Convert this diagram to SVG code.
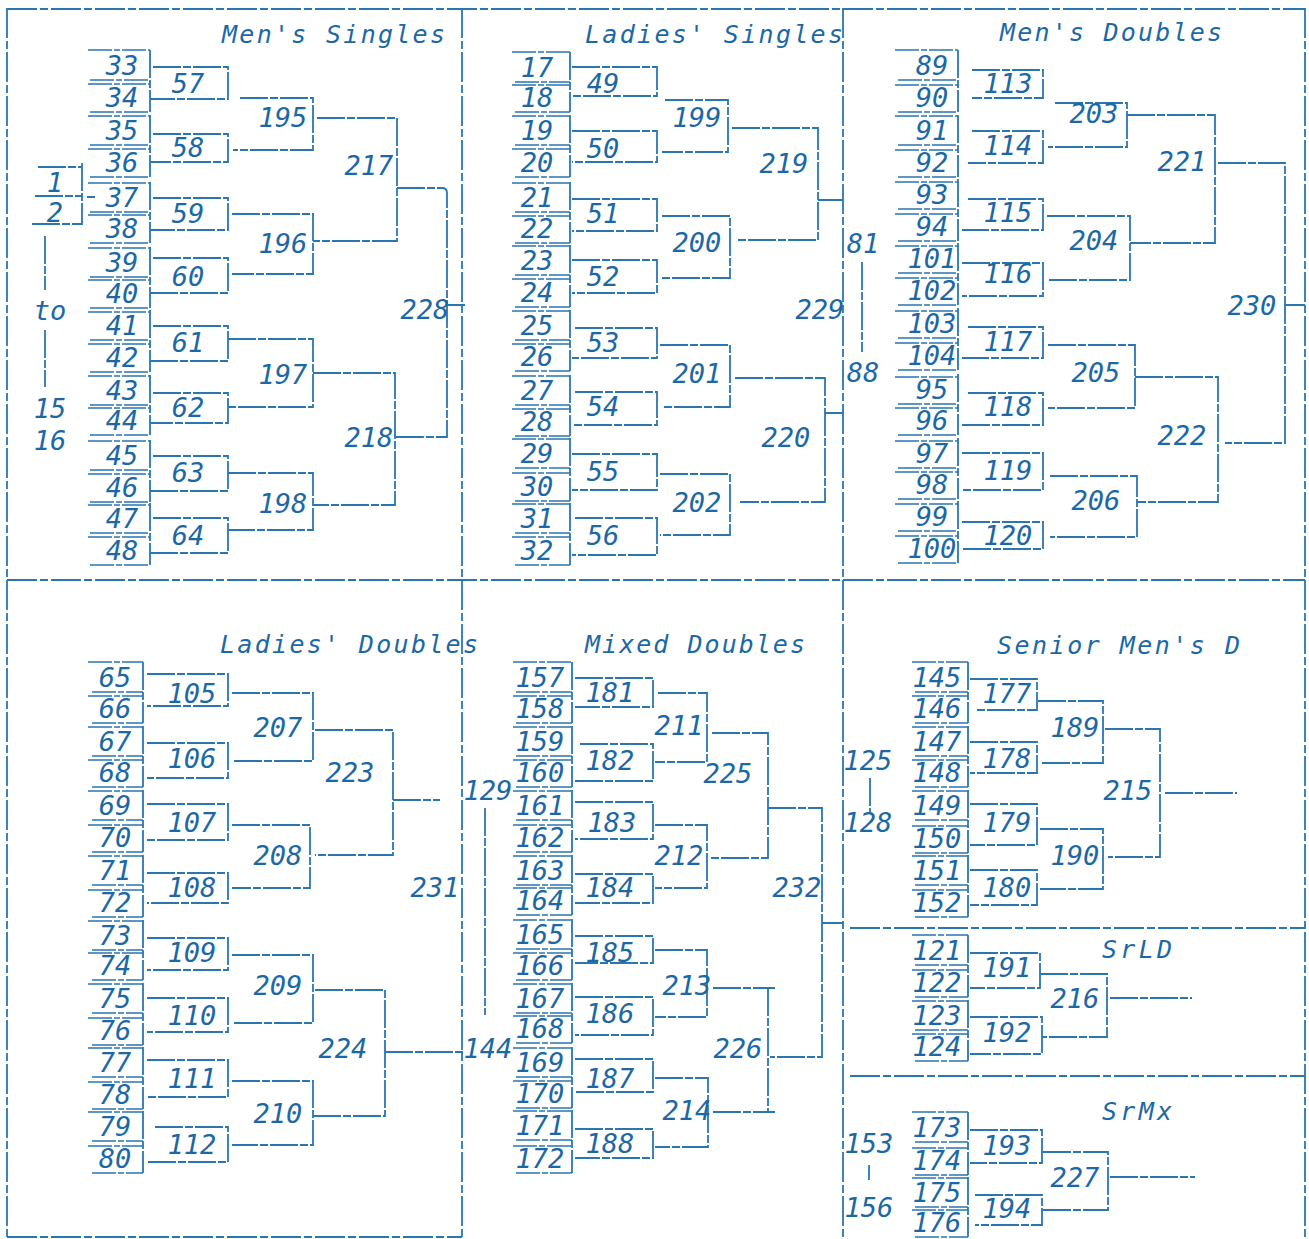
<svg xmlns="http://www.w3.org/2000/svg" width="1309" height="1239" viewBox="0 0 1309 1239">
<style>
.ln{stroke:#2a76b2;stroke-width:1.8;fill:none;stroke-dasharray:28 2 8 2}
.fr{stroke:#2a76b2;stroke-width:1.8;fill:none;stroke-dasharray:30 3 8 3}
.ul{stroke:#2a76b2;stroke-width:1.5;fill:none;stroke-dasharray:24 2 6 2}
.t{font-family:"DejaVu Sans Mono","Liberation Mono",monospace;font-style:italic;font-size:27px;fill:#1c68a6;text-anchor:middle}
.h{font-family:"DejaVu Sans Mono","Liberation Mono",monospace;font-style:italic;font-size:25px;fill:#1c68a6}
</style>
<rect x="0" y="0" width="1309" height="1239" fill="#ffffff"/>
<g id="frame">
<path class="fr" d="M7 9H1305M7 8V1237M1305 8V1237M462 8V1237M843 8V1237M7 580H1305M850 928H1305M850 1076H1305M7 1237H462"/>
</g>
<g id="titles">
<text class="h" x="222" y="43" textLength="223" lengthAdjust="spacing">Men's Singles</text>
<text class="h" x="585" y="43" textLength="258" lengthAdjust="spacing">Ladies' Singles</text>
<text class="h" x="1000" y="41" textLength="222" lengthAdjust="spacing">Men's Doubles</text>
<text class="h" x="220" y="653" textLength="258" lengthAdjust="spacing">Ladies' Doubles</text>
<text class="h" x="585" y="653" textLength="220" lengthAdjust="spacing">Mixed Doubles</text>
<text class="h" x="997" y="654" textLength="243" lengthAdjust="spacing">Senior Men's D</text>
<text class="h" x="1102" y="958" textLength="70" lengthAdjust="spacing">SrLD</text>
<text class="h" x="1102" y="1120" textLength="70" lengthAdjust="spacing">SrMx</text>
</g>
<g id="connectors">
<path class="ln" d="M150 50V112M150 115V177M150 182V243M150 247V308M150 310V372M150 375V435M150 440V502M150 503V565"/>
<path class="ln" d="M153 67H228V99H150M153 134H228V162H150M153 198H228V230H150M153 258H228V293H150M153 326H228V361H150M153 393H228V423H150M153 456H228V491H150M153 518H228V553H150"/>
<path class="ln" d="M240 98H313V150H233M232 214H313V274H232M228 339H313V407H228M228 473H313V530H228"/>
<path class="ln" d="M317 118H397V241H313M313 373H395V505H313"/>
<path class="ln" d="M397 188H442Q447 188 447 193V437H395M447 305H465"/>
<path class="ln" d="M38 167H82M35 196H82M32 224H82M82 163V225M87 197H95M45 236V290M45 330V387"/>
<path class="ln" d="M570 52V112M570 115V177M570 182V243M570 245V307M570 310V371M570 375V436M570 438V501M570 503V565"/>
<path class="ln" d="M572 67H657V96H572M572 131H657V162H572M572 199H657V231H572M572 260H657V293H572M575 328H657V358H572M575 392H657V425H572M572 454H657V490H572M575 518H657V555H572"/>
<path class="ln" d="M665 100H728V152H662M662 216H730V278H662M660 345H730V407H663M660 474H730V535H660"/>
<path class="ln" d="M732 128H818V240H737M818 200H843M735 378H825V502H740M825 413H843"/>
<path class="ln" d="M862 262V352"/>
<path class="ln" d="M958 50V112M958 115V177M958 179V241M958 243V305M958 308V370M958 374V435M958 438V499M958 501V563"/>
<path class="ln" d="M972 70H1043V98H972M972 131H1043V163H968M968 199H1043V230H962M962 263H1043V296H962M968 327H1043V358H962M968 393H1043V425H962M962 453H1043V490H962M962 522H1043V549H962"/>
<path class="ln" d="M1055 103H1127V147H1048M1047 216H1130V280H1047M1048 345H1135V408H1048M1050 476H1137V537H1050"/>
<path class="ln" d="M1127 115H1215V243H1130M1135 377H1218V502H1137"/>
<path class="ln" d="M1218 163H1285V443H1225M1285 305H1305"/>
<path class="ln" d="M143 662V723M143 726V787M143 790V852M143 855V917M143 920V980M143 983V1045M143 1047V1109M143 1111V1173"/>
<path class="ln" d="M147 674H228V706H147M147 743H228V778H147M147 804H228V840H147M147 873H228V903H147M147 938H228V970H147M147 998H228V1032H147M147 1060H228V1097H147M155 1127H228V1162H147"/>
<path class="ln" d="M232 693H313V761H232M232 825H310V888H232M232 955H313V1023H232M232 1081H313V1145H232"/>
<path class="ln" d="M315 730H393V855H315M393 800H440M315 990H385V1116H313M385 1052H465"/>
<path class="ln" d="M572 662V723M572 726V787M572 790V852M572 855V915M572 919V980M572 983V1043M572 1047V1108M572 1110V1173"/>
<path class="ln" d="M575 678H653V707H575M580 744H653V781H575M575 802H653V839H575M575 874H653V903H575M575 936H653V963H575M575 997H653V1035H575M575 1059H653V1092H575M575 1129H653V1158H575"/>
<path class="ln" d="M658 693H707V762H655M655 825H707V888H655M655 950H707V1017H655M655 1078H708V1147H655"/>
<path class="ln" d="M712 733H768V858H710M713 988H775M768 988V1112M713 1112H775"/>
<path class="ln" d="M768 808H822V1057H770M822 923H843"/>
<path class="ln" d="M485 808V1015"/>
<path class="ln" d="M968 662V723M968 726V787M968 790V853M968 855V917"/>
<path class="ln" d="M970 679H1037V710H975M970 742H1037V773H970M970 804H1037V845H970M970 870H1037V905H970"/>
<path class="ln" d="M1038 701H1103V763H1042M1040 829H1103V889H1040"/>
<path class="ln" d="M1105 729H1160V857H1108M1165 793H1237"/>
<path class="ln" d="M870 778V812"/>
<path class="ln" d="M968 935V997M968 1000V1061"/>
<path class="ln" d="M970 953H1040V988H970M970 1017H1042V1054H970"/>
<path class="ln" d="M1040 974H1107V1037H1042M1110 998H1192"/>
<path class="ln" d="M968 1112V1175M968 1177V1237"/>
<path class="ln" d="M970 1130H1042V1163H970M975 1195H1042V1225H975"/>
<path class="ln" d="M1043 1152H1108V1210H1043M1110 1177H1195"/>
<path class="ln" d="M869 1165V1180"/>
</g>
<g id="side-labels">
<g id="s1"><text class="t" x="55" y="192">1</text></g>
<g id="s2"><text class="t" x="55" y="222">2</text></g>
<g id="sto"><text class="t" x="50" y="320">to</text></g>
<g id="s15"><text class="t" x="50" y="418">15</text></g>
<g id="s16"><text class="t" x="50" y="450">16</text></g>
<g id="s81"><text class="t" x="863" y="253">81</text></g>
<g id="s88"><text class="t" x="863" y="382">88</text></g>
<g id="s129"><text class="t" x="488" y="800">129</text></g>
<g id="s144"><text class="t" x="488" y="1058">144</text></g>
<g id="s125"><text class="t" x="868" y="770">125</text></g>
<g id="s128"><text class="t" x="868" y="832">128</text></g>
<g id="s153"><text class="t" x="869" y="1153">153</text></g>
<g id="s156"><text class="t" x="869" y="1217">156</text></g>
</g>
<g id="entries">
<g id="e33"><text class="t" x="122" y="75">33</text><path class="ul" d="M88 50H150M90 80H150"/></g>
<g id="e34"><text class="t" x="122" y="107">34</text><path class="ul" d="M88 84H150M90 112H150"/></g>
<g id="e35"><text class="t" x="122" y="140">35</text><path class="ul" d="M88 116H150M90 145H150"/></g>
<g id="e36"><text class="t" x="122" y="172">36</text><path class="ul" d="M88 149H150M90 177H150"/></g>
<g id="e37"><text class="t" x="122" y="207">37</text><path class="ul" d="M88 183H150M90 212H150"/></g>
<g id="e38"><text class="t" x="122" y="238">38</text><path class="ul" d="M88 215H150M90 243H150"/></g>
<g id="e39"><text class="t" x="122" y="272">39</text><path class="ul" d="M88 248H150M90 277H150"/></g>
<g id="e40"><text class="t" x="122" y="303">40</text><path class="ul" d="M88 280H150M90 308H150"/></g>
<g id="e41"><text class="t" x="122" y="335">41</text><path class="ul" d="M88 312H150M90 340H150"/></g>
<g id="e42"><text class="t" x="122" y="367">42</text><path class="ul" d="M88 344H150M90 372H150"/></g>
<g id="e43"><text class="t" x="122" y="400">43</text><path class="ul" d="M88 376H150M90 405H150"/></g>
<g id="e44"><text class="t" x="122" y="430">44</text><path class="ul" d="M88 408H150M90 435H150"/></g>
<g id="e45"><text class="t" x="122" y="465">45</text><path class="ul" d="M88 441H150M90 470H150"/></g>
<g id="e46"><text class="t" x="122" y="497">46</text><path class="ul" d="M88 474H150M90 502H150"/></g>
<g id="e47"><text class="t" x="122" y="528">47</text><path class="ul" d="M88 505H150M90 533H150"/></g>
<g id="e48"><text class="t" x="122" y="560">48</text><path class="ul" d="M88 537H150M90 565H150"/></g>

<g id="e17"><text class="t" x="537" y="77">17</text><path class="ul" d="M512 52H570M515 82H570"/></g>
<g id="e18"><text class="t" x="537" y="107">18</text><path class="ul" d="M512 85H570M515 112H570"/></g>
<g id="e19"><text class="t" x="537" y="140">19</text><path class="ul" d="M512 116H570M515 145H570"/></g>
<g id="e20"><text class="t" x="537" y="172">20</text><path class="ul" d="M512 149H570M515 177H570"/></g>
<g id="e21"><text class="t" x="537" y="207">21</text><path class="ul" d="M512 183H570M515 212H570"/></g>
<g id="e22"><text class="t" x="537" y="238">22</text><path class="ul" d="M512 216H570M515 243H570"/></g>
<g id="e23"><text class="t" x="537" y="270">23</text><path class="ul" d="M512 246H570M515 275H570"/></g>
<g id="e24"><text class="t" x="537" y="302">24</text><path class="ul" d="M512 279H570M515 307H570"/></g>
<g id="e25"><text class="t" x="537" y="335">25</text><path class="ul" d="M512 311H570M515 340H570"/></g>
<g id="e26"><text class="t" x="537" y="366">26</text><path class="ul" d="M512 344H570M515 371H570"/></g>
<g id="e27"><text class="t" x="537" y="400">27</text><path class="ul" d="M512 376H570M515 405H570"/></g>
<g id="e28"><text class="t" x="537" y="431">28</text><path class="ul" d="M512 409H570M515 436H570"/></g>
<g id="e29"><text class="t" x="537" y="463">29</text><path class="ul" d="M512 439H570M515 468H570"/></g>
<g id="e30"><text class="t" x="537" y="496">30</text><path class="ul" d="M512 473H570M515 501H570"/></g>
<g id="e31"><text class="t" x="537" y="528">31</text><path class="ul" d="M512 504H570M515 533H570"/></g>
<g id="e32"><text class="t" x="537" y="560">32</text><path class="ul" d="M512 537H570M515 565H570"/></g>

<g id="e89"><text class="t" x="932" y="75">89</text><path class="ul" d="M895 50H958M898 80H958"/></g>
<g id="e90"><text class="t" x="932" y="107">90</text><path class="ul" d="M895 85H958M898 112H958"/></g>
<g id="e91"><text class="t" x="932" y="140">91</text><path class="ul" d="M895 116H958M898 145H958"/></g>
<g id="e92"><text class="t" x="932" y="172">92</text><path class="ul" d="M895 150H958M898 177H958"/></g>
<g id="e93"><text class="t" x="932" y="204">93</text><path class="ul" d="M895 182H958M898 209H958"/></g>
<g id="e94"><text class="t" x="932" y="236">94</text><path class="ul" d="M895 214H958M898 241H958"/></g>
<g id="e101"><text class="t" x="932" y="268">101</text><path class="ul" d="M895 246H958M898 273H958"/></g>
<g id="e102"><text class="t" x="932" y="300">102</text><path class="ul" d="M895 278H958M898 305H958"/></g>
<g id="e103"><text class="t" x="932" y="333">103</text><path class="ul" d="M895 311H958M898 338H958"/></g>
<g id="e104"><text class="t" x="932" y="365">104</text><path class="ul" d="M895 343H958M898 370H958"/></g>
<g id="e95"><text class="t" x="932" y="399">95</text><path class="ul" d="M895 377H958M898 404H958"/></g>
<g id="e96"><text class="t" x="932" y="430">96</text><path class="ul" d="M895 408H958M898 435H958"/></g>
<g id="e97"><text class="t" x="932" y="463">97</text><path class="ul" d="M895 441H958M898 468H958"/></g>
<g id="e98"><text class="t" x="932" y="494">98</text><path class="ul" d="M895 472H958M898 499H958"/></g>
<g id="e99"><text class="t" x="932" y="526">99</text><path class="ul" d="M895 504H958M898 531H958"/></g>
<g id="e100"><text class="t" x="932" y="558">100</text><path class="ul" d="M895 536H958M898 563H958"/></g>

<g id="e65"><text class="t" x="115" y="687">65</text><path class="ul" d="M88 662H143M92 692H143"/></g>
<g id="e66"><text class="t" x="115" y="718">66</text><path class="ul" d="M88 696H143M92 723H143"/></g>
<g id="e67"><text class="t" x="115" y="751">67</text><path class="ul" d="M88 727H143M92 756H143"/></g>
<g id="e68"><text class="t" x="115" y="782">68</text><path class="ul" d="M88 760H143M92 787H143"/></g>
<g id="e69"><text class="t" x="115" y="815">69</text><path class="ul" d="M88 791H143M92 820H143"/></g>
<g id="e70"><text class="t" x="115" y="847">70</text><path class="ul" d="M88 825H143M92 852H143"/></g>
<g id="e71"><text class="t" x="115" y="880">71</text><path class="ul" d="M88 856H143M92 885H143"/></g>
<g id="e72"><text class="t" x="115" y="912">72</text><path class="ul" d="M88 890H143M92 917H143"/></g>
<g id="e73"><text class="t" x="115" y="945">73</text><path class="ul" d="M88 921H143M92 950H143"/></g>
<g id="e74"><text class="t" x="115" y="975">74</text><path class="ul" d="M88 953H143M92 980H143"/></g>
<g id="e75"><text class="t" x="115" y="1008">75</text><path class="ul" d="M88 984H143M92 1013H143"/></g>
<g id="e76"><text class="t" x="115" y="1040">76</text><path class="ul" d="M88 1018H143M92 1045H143"/></g>
<g id="e77"><text class="t" x="115" y="1072">77</text><path class="ul" d="M88 1048H143M92 1077H143"/></g>
<g id="e78"><text class="t" x="115" y="1104">78</text><path class="ul" d="M88 1082H143M92 1109H143"/></g>
<g id="e79"><text class="t" x="115" y="1136">79</text><path class="ul" d="M88 1112H143M92 1141H143"/></g>
<g id="e80"><text class="t" x="115" y="1168">80</text><path class="ul" d="M88 1146H143M92 1173H143"/></g>

<g id="e157"><text class="t" x="540" y="687">157</text><path class="ul" d="M513 662H572M516 692H572"/></g>
<g id="e158"><text class="t" x="540" y="718">158</text><path class="ul" d="M513 696H572M516 723H572"/></g>
<g id="e159"><text class="t" x="540" y="751">159</text><path class="ul" d="M513 727H572M516 756H572"/></g>
<g id="e160"><text class="t" x="540" y="782">160</text><path class="ul" d="M513 760H572M516 787H572"/></g>
<g id="e161"><text class="t" x="540" y="815">161</text><path class="ul" d="M513 791H572M516 820H572"/></g>
<g id="e162"><text class="t" x="540" y="847">162</text><path class="ul" d="M513 825H572M516 852H572"/></g>
<g id="e163"><text class="t" x="540" y="880">163</text><path class="ul" d="M513 856H572M516 885H572"/></g>
<g id="e164"><text class="t" x="540" y="910">164</text><path class="ul" d="M513 888H572M516 915H572"/></g>
<g id="e165"><text class="t" x="540" y="944">165</text><path class="ul" d="M513 920H572M516 949H572"/></g>
<g id="e166"><text class="t" x="540" y="975">166</text><path class="ul" d="M513 953H572M516 980H572"/></g>
<g id="e167"><text class="t" x="540" y="1008">167</text><path class="ul" d="M513 984H572M516 1013H572"/></g>
<g id="e168"><text class="t" x="540" y="1038">168</text><path class="ul" d="M513 1016H572M516 1043H572"/></g>
<g id="e169"><text class="t" x="540" y="1072">169</text><path class="ul" d="M513 1048H572M516 1077H572"/></g>
<g id="e170"><text class="t" x="540" y="1103">170</text><path class="ul" d="M513 1081H572M516 1108H572"/></g>
<g id="e171"><text class="t" x="540" y="1135">171</text><path class="ul" d="M513 1111H572M516 1140H572"/></g>
<g id="e172"><text class="t" x="540" y="1168">172</text><path class="ul" d="M513 1146H572M516 1173H572"/></g>

<g id="e145"><text class="t" x="937" y="687">145</text><path class="ul" d="M912 662H968M915 692H968"/></g>
<g id="e146"><text class="t" x="937" y="718">146</text><path class="ul" d="M912 696H968M915 723H968"/></g>
<g id="e147"><text class="t" x="937" y="751">147</text><path class="ul" d="M912 727H968M915 756H968"/></g>
<g id="e148"><text class="t" x="937" y="782">148</text><path class="ul" d="M912 760H968M915 787H968"/></g>
<g id="e149"><text class="t" x="937" y="815">149</text><path class="ul" d="M912 791H968M915 820H968"/></g>
<g id="e150"><text class="t" x="937" y="848">150</text><path class="ul" d="M912 826H968M915 853H968"/></g>
<g id="e151"><text class="t" x="937" y="880">151</text><path class="ul" d="M912 856H968M915 885H968"/></g>
<g id="e152"><text class="t" x="937" y="912">152</text><path class="ul" d="M912 890H968M915 917H968"/></g>

<g id="e121"><text class="t" x="937" y="960">121</text><path class="ul" d="M912 935H968M915 965H968"/></g>
<g id="e122"><text class="t" x="937" y="992">122</text><path class="ul" d="M912 970H968M915 997H968"/></g>
<g id="e123"><text class="t" x="937" y="1025">123</text><path class="ul" d="M912 1001H968M915 1030H968"/></g>
<g id="e124"><text class="t" x="937" y="1056">124</text><path class="ul" d="M912 1034H968M915 1061H968"/></g>

<g id="e173"><text class="t" x="937" y="1137">173</text><path class="ul" d="M912 1112H968M915 1142H968"/></g>
<g id="e174"><text class="t" x="937" y="1170">174</text><path class="ul" d="M912 1148H968M915 1175H968"/></g>
<g id="e175"><text class="t" x="937" y="1202">175</text><path class="ul" d="M912 1178H968M915 1207H968"/></g>
<g id="e176"><text class="t" x="937" y="1232">176</text><path class="ul" d="M912 1210H968M915 1237H968"/></g>
</g>
<g id="matches">
<g id="m57"><text class="t" x="188" y="93">57</text></g>
<g id="m58"><text class="t" x="188" y="157">58</text></g>
<g id="m59"><text class="t" x="188" y="223">59</text></g>
<g id="m60"><text class="t" x="188" y="286">60</text></g>
<g id="m61"><text class="t" x="188" y="352">61</text></g>
<g id="m62"><text class="t" x="188" y="417">62</text></g>
<g id="m63"><text class="t" x="188" y="482">63</text></g>
<g id="m64"><text class="t" x="188" y="545">64</text></g>
<g id="m195"><text class="t" x="283" y="127">195</text></g>
<g id="m196"><text class="t" x="283" y="253">196</text></g>
<g id="m197"><text class="t" x="283" y="384">197</text></g>
<g id="m198"><text class="t" x="283" y="513">198</text></g>
<g id="m217"><text class="t" x="369" y="175">217</text></g>
<g id="m218"><text class="t" x="369" y="447">218</text></g>
<g id="m228"><text class="t" x="425" y="319">228</text></g>

<g id="m49"><text class="t" x="603" y="93">49</text></g>
<g id="m50"><text class="t" x="603" y="158">50</text></g>
<g id="m51"><text class="t" x="603" y="223">51</text></g>
<g id="m52"><text class="t" x="603" y="286">52</text></g>
<g id="m53"><text class="t" x="603" y="352">53</text></g>
<g id="m54"><text class="t" x="603" y="416">54</text></g>
<g id="m55"><text class="t" x="603" y="481">55</text></g>
<g id="m56"><text class="t" x="603" y="545">56</text></g>
<g id="m199"><text class="t" x="697" y="127">199</text></g>
<g id="m200"><text class="t" x="697" y="252">200</text></g>
<g id="m201"><text class="t" x="697" y="383">201</text></g>
<g id="m202"><text class="t" x="697" y="512">202</text></g>
<g id="m219"><text class="t" x="784" y="173">219</text></g>
<g id="m220"><text class="t" x="786" y="447">220</text></g>
<g id="m229"><text class="t" x="820" y="319">229</text></g>

<g id="m113"><text class="t" x="1008" y="93">113</text></g>
<g id="m114"><text class="t" x="1008" y="155">114</text></g>
<g id="m115"><text class="t" x="1008" y="222">115</text></g>
<g id="m116"><text class="t" x="1008" y="283">116</text></g>
<g id="m117"><text class="t" x="1008" y="351">117</text></g>
<g id="m118"><text class="t" x="1008" y="416">118</text></g>
<g id="m119"><text class="t" x="1008" y="480">119</text></g>
<g id="m120"><text class="t" x="1008" y="545">120</text></g>
<g id="m203"><text class="t" x="1094" y="123">203</text></g>
<g id="m204"><text class="t" x="1094" y="250">204</text></g>
<g id="m205"><text class="t" x="1096" y="382">205</text></g>
<g id="m206"><text class="t" x="1096" y="510">206</text></g>
<g id="m221"><text class="t" x="1182" y="171">221</text></g>
<g id="m222"><text class="t" x="1182" y="445">222</text></g>
<g id="m230"><text class="t" x="1252" y="315">230</text></g>

<g id="m105"><text class="t" x="192" y="703">105</text></g>
<g id="m106"><text class="t" x="192" y="768">106</text></g>
<g id="m107"><text class="t" x="192" y="832">107</text></g>
<g id="m108"><text class="t" x="192" y="897">108</text></g>
<g id="m109"><text class="t" x="192" y="962">109</text></g>
<g id="m110"><text class="t" x="192" y="1025">110</text></g>
<g id="m111"><text class="t" x="192" y="1088">111</text></g>
<g id="m112"><text class="t" x="192" y="1154">112</text></g>
<g id="m207"><text class="t" x="278" y="737">207</text></g>
<g id="m208"><text class="t" x="278" y="865">208</text></g>
<g id="m209"><text class="t" x="278" y="995">209</text></g>
<g id="m210"><text class="t" x="278" y="1123">210</text></g>
<g id="m223"><text class="t" x="350" y="782">223</text></g>
<g id="m224"><text class="t" x="343" y="1058">224</text></g>
<g id="m231"><text class="t" x="435" y="897">231</text></g>

<g id="m181"><text class="t" x="610" y="702">181</text></g>
<g id="m182"><text class="t" x="610" y="770">182</text></g>
<g id="m183"><text class="t" x="612" y="832">183</text></g>
<g id="m184"><text class="t" x="610" y="897">184</text></g>
<g id="m185"><text class="t" x="610" y="962">185</text></g>
<g id="m186"><text class="t" x="610" y="1023">186</text></g>
<g id="m187"><text class="t" x="610" y="1088">187</text></g>
<g id="m188"><text class="t" x="610" y="1153">188</text></g>
<g id="m211"><text class="t" x="679" y="735">211</text></g>
<g id="m212"><text class="t" x="679" y="865">212</text></g>
<g id="m213"><text class="t" x="687" y="995">213</text></g>
<g id="m214"><text class="t" x="687" y="1120">214</text></g>
<g id="m225"><text class="t" x="728" y="783">225</text></g>
<g id="m226"><text class="t" x="738" y="1058">226</text></g>
<g id="m232"><text class="t" x="797" y="897">232</text></g>

<g id="m177"><text class="t" x="1007" y="703">177</text></g>
<g id="m178"><text class="t" x="1007" y="768">178</text></g>
<g id="m179"><text class="t" x="1007" y="832">179</text></g>
<g id="m180"><text class="t" x="1007" y="897">180</text></g>
<g id="m189"><text class="t" x="1075" y="737">189</text></g>
<g id="m190"><text class="t" x="1075" y="865">190</text></g>
<g id="m215"><text class="t" x="1128" y="800">215</text></g>

<g id="m191"><text class="t" x="1007" y="977">191</text></g>
<g id="m192"><text class="t" x="1007" y="1042">192</text></g>
<g id="m216"><text class="t" x="1075" y="1008">216</text></g>

<g id="m193"><text class="t" x="1007" y="1155">193</text></g>
<g id="m194"><text class="t" x="1007" y="1218">194</text></g>
<g id="m227"><text class="t" x="1075" y="1187">227</text></g>
</g>
</svg>
